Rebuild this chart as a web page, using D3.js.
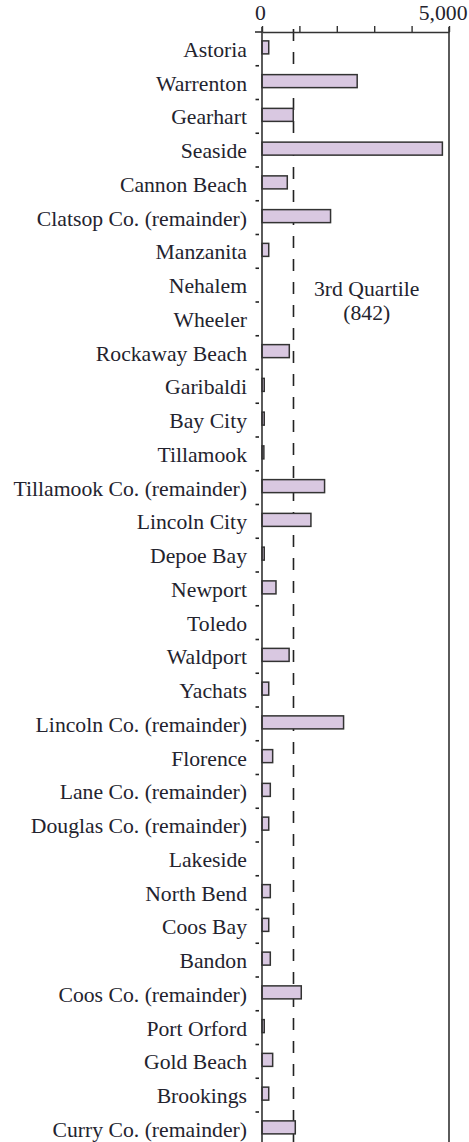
<!DOCTYPE html>
<html>
<head>
  <meta charset="utf-8">
  <script src="https://cdn.jsdelivr.net/npm/d3@7"></script>
  <style>
    body {margin:0; background:#fff;}
    .bar {fill: #d9c8e1; stroke: #333; stroke-width: 1.5;}
  </style>
</head>
<body>
<script>
const places = [
  "Astoria", "Warrenton", "Gearhart", "Seaside", "Cannon Beach", "Clatsop Co. (remainder)",
  "Manzanita", "Nehalem", "Wheeler", "Rockaway Beach", "Garibaldi", "Bay City", "Tillamook",
  "Tillamook Co. (remainder)", "Lincoln City", "Depoe Bay", "Newport", "Toledo", "Waldport",
  "Yachats", "Lincoln Co. (remainder)", "Florence", "Lane Co. (remainder)",
  "Douglas Co. (remainder)", "Lakeside", "North Bend", "Coos Bay", "Bandon",
  "Coos Co. (remainder)", "Port Orford", "Gold Beach", "Brookings", "Curry Co. (remainder)"
];
const counts = [
  180, 2545, 836, 4823, 676, 1833,
  180, 0, 0, 730, 60, 60, 50,
  1673, 1308, 60, 374, 0, 725,
  180, 2181, 285, 222,
  180, 0, 222, 180, 222,
  1050, 60, 285, 180, 890
];
const xTicks = [0, 1000, 2000, 3000, 4000, 5000];
const xLabelled = [0, 5000];
const quartile = 842;
const quartileText = ["3rd Quartile", "(842)"];

const width = 469, height = 1142;
const axisY = 32, left = 262, right = 449;
const serif = "'Liberation Serif', 'DejaVu Serif', 'Times New Roman', serif";

const svg = d3.select("body").append("svg")
  .attr("width", width)
  .attr("height", height)
  .style("font-family", serif)
  .style("font-size", "21.7px");

const x = d3.scaleLinear().domain([0, 5000]).range([left, right]);
const y = d3.scaleBand().domain(places).range([axisY, axisY + places.length * 33.75]);
const barH = 13;

// quartile line sits behind the bars
svg.append("line")
  .attr("x1", x(quartile)).attr("x2", x(quartile))
  .attr("y1", axisY - 3).attr("y2", height)
  .attr("stroke", "#222").attr("stroke-width", 1.6)
  .attr("stroke-dasharray", "12,11");

svg.selectAll("rect.bar")
  .data(places)
  .join("rect")
  .attr("class", "bar")
  .attr("x", x(0))
  .attr("y", (d) => y(d) + (y.bandwidth() - barH) / 2 - 1.5)
  .attr("width", (d, i) => x(counts[i]) - x(0))
  .attr("height", barH)
  .style("display", (d, i) => counts[i] > 0 ? null : "none");

// top axis
const xAxis = svg.append("g")
  .attr("transform", `translate(0,${axisY})`)
  .call(d3.axisTop(x)
    .tickValues(xTicks)
    .tickSize(6)
    .tickSizeOuter(0)
    .tickFormat((d) => xLabelled.includes(d) ? d3.format(",")(d) : ""));
xAxis.attr("font-size", null).attr("font-family", null);
xAxis.select(".domain").attr("stroke", "#333").attr("stroke-width", 1.6);
xAxis.selectAll(".tick line").attr("stroke", "#333").attr("stroke-width", 1.4);
xAxis.selectAll(".tick text")
  .attr("fill", "#23232e")
  .style("font-family", serif)
  .attr("y", -12);
xAxis.selectAll(".tick text").filter((d) => d === 5000)
  .attr("text-anchor", "end").attr("dx", 18);
xAxis.selectAll(".tick text").filter((d) => d === 0)
  .attr("dx", -2);

// stub left of zero
svg.append("line")
  .attr("x1", left - 7).attr("x2", left)
  .attr("y1", axisY).attr("y2", axisY)
  .attr("stroke", "#333").attr("stroke-width", 1.6);

// vertical frame lines
[left, right].forEach((xx) => {
  svg.append("line")
    .attr("x1", xx).attr("x2", xx)
    .attr("y1", axisY - 5).attr("y2", height)
    .attr("stroke", "#333").attr("stroke-width", 1.6);
});

// row separators on the left
svg.selectAll("line.row")
  .data(places.slice(1))
  .join("line")
  .attr("class", "row")
  .attr("x1", left - 6.5).attr("x2", left - 3)
  .attr("y1", (d) => y(d)).attr("y2", (d) => y(d))
  .attr("stroke", "#222").attr("stroke-width", 1.6);

// category labels
svg.selectAll("text.place")
  .data(places)
  .join("text")
  .attr("class", "place")
  .attr("x", left - 15)
  .attr("y", (d) => y(d) + y.bandwidth() / 2 + 8)
  .attr("text-anchor", "end")
  .attr("fill", "#23232e")
  .style("font-family", serif)
  .text((d) => d);

svg.append("text")
  .attr("x", x(2800)).attr("y", 296)
  .attr("text-anchor", "middle")
  .attr("fill", "#23232e")
  .style("font-family", serif)
  .selectAll("tspan")
  .data(quartileText)
  .join("tspan")
  .attr("x", x(2800))
  .attr("dy", (d, i) => i ? 24 : 0)
  .text((d) => d);
</script>
</body>
</html>
